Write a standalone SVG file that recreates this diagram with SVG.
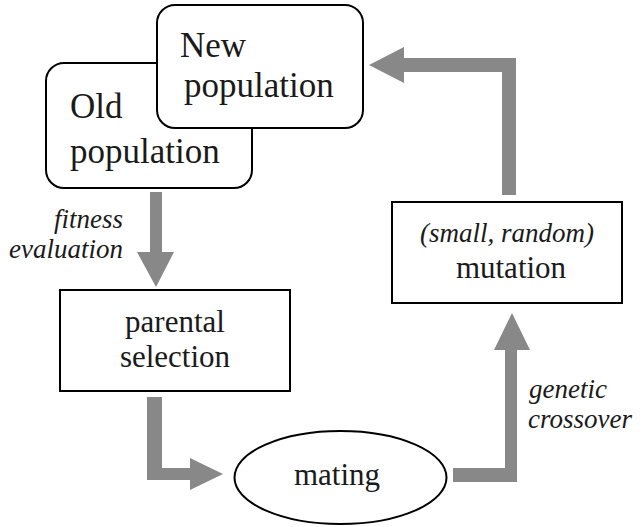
<svg xmlns="http://www.w3.org/2000/svg" width="642" height="527" viewBox="0 0 642 527">
  <style>
    .box { fill: #ffffff; stroke: #000000; stroke-width: 2; }
    .arrow { fill: #888888; stroke: none; }
    .big { font-size: 35px; }
    .mid { font-size: 31px; }
    .note { font-size: 27px; font-style: italic; }
  </style>

  <!-- connectors: thick grey block arrows -->
  <g id="connectors">
    <!-- fitness evaluation -->
    <path class="arrow" d="M150,192 H162 V252 H174 L156,287 L137,252 H150 Z"/>
    <!-- selection to mating -->
    <path class="arrow" d="M147,397 H162 V468 H190 V458 L223,474 L190,490 V480 H147 Z"/>
    <!-- mating to mutation (genetic crossover) -->
    <path class="arrow" d="M453,468 H505 V350 H494 L512,313 L530,350 H517 V482 H453 Z"/>
    <!-- mutation to new population -->
    <path class="arrow" d="M502,195 V72 H404 V83 L369,65 L404,47 V58 H516 V195 Z"/>
  </g>

  <g font-family="Liberation Serif, Tinos, Noto Serif, DejaVu Serif, Times New Roman, Times, serif" fill="#1a1a1a">
  <g id="old-population">
    <rect class="box" x="46" y="63" width="206" height="125" rx="18" ry="18"/>
    <text class="big" x="70" y="118">Old</text>
    <text class="big" x="70" y="163">population</text>
  </g>

  <g id="new-population">
    <rect class="box" x="157" y="5" width="206" height="123" rx="18" ry="18"/>
    <text class="big" x="180" y="57">New</text>
    <text class="big" x="184" y="97">population</text>
  </g>

  <g id="fitness-label">
    <text class="note" x="123" y="228" text-anchor="end">fitness</text>
    <text class="note" x="123" y="258" text-anchor="end">evaluation</text>
  </g>

  <g id="parental-selection">
    <rect class="box" x="60" y="290" width="230" height="101"/>
    <text class="mid" x="175" y="332" text-anchor="middle">parental</text>
    <text class="mid" x="175" y="367" text-anchor="middle">selection</text>
  </g>

  <g id="mating">
    <ellipse class="box" cx="340.5" cy="477.5" rx="106" ry="46.5"/>
    <text class="mid" x="337" y="485" text-anchor="middle">mating</text>
  </g>

  <g id="crossover-label">
    <text class="note" x="529" y="398">genetic</text>
    <text class="note" x="528" y="428">crossover</text>
  </g>

  <g id="mutation">
    <rect class="box" x="392" y="202" width="230" height="101"/>
    <text class="note" x="507" y="242" text-anchor="middle">(small, random)</text>
    <text class="mid" x="511" y="278" text-anchor="middle">mutation</text>
  </g>
  </g>
</svg>
